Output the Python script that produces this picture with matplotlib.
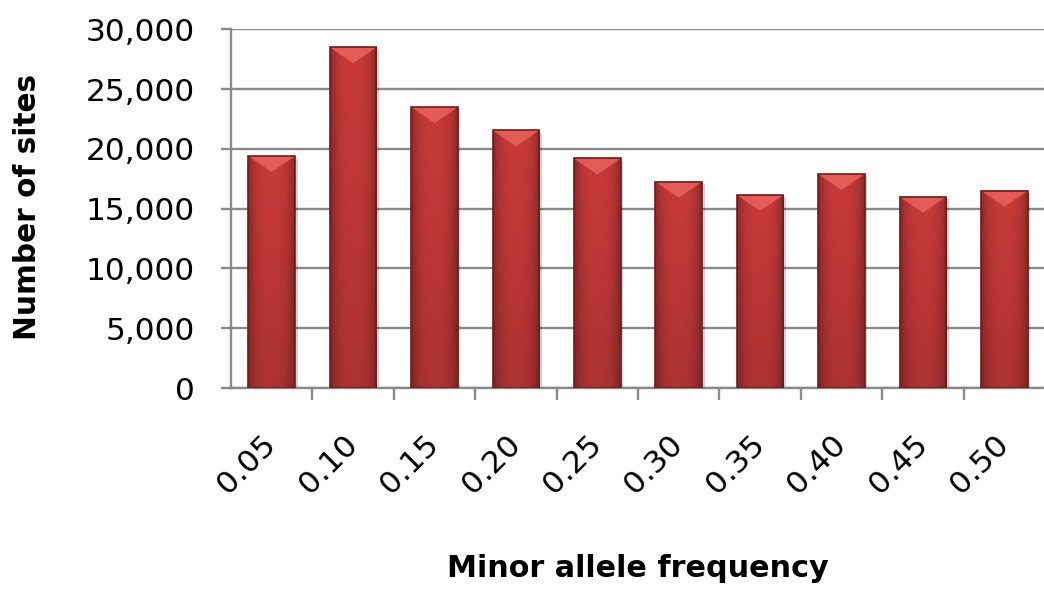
import numpy as np
import matplotlib
matplotlib.use("Agg")
import matplotlib.pyplot as plt
from matplotlib.patches import Rectangle, Polygon
from matplotlib.colors import to_rgb
import matplotlib.transforms as mtransforms

# ---- data ----
categories = ["0.05", "0.10", "0.15", "0.20", "0.25", "0.30", "0.35", "0.40", "0.45", "0.50"]
sites = [19400, 28500, 23500, 21550, 19200, 17250, 16150, 17900, 16000, 16500]
y_ticks = [0, 5000, 10000, 15000, 20000, 25000, 30000]
y_tick_labels = ["0", "5,000", "10,000", "15,000", "20,000", "25,000", "30,000"]
x_title = "Minor allele frequency"
y_title = "Number of sites"

plt.rcParams['font.family'] = ['DejaVu Sans']

W, H = 1044, 597
fig = plt.figure(figsize=(W / 100, H / 100), dpi=100)
ax_left, ax_right, ax_top, ax_bot = 231, 1045, 29.3, 388
ax = fig.add_axes([ax_left / W, 1 - ax_bot / H, (ax_right - ax_left) / W, (ax_bot - ax_top) / H])

n = len(categories)
x = np.arange(n)
bar_w = 0.574
ymax = 30000
ax.set_xlim(-0.5, n - 0.5)
ax.set_ylim(0, ymax)

grid_c = "#8a8a8a"
ax.set_yticks(y_ticks)
ax.set_yticklabels(y_tick_labels)
ax.yaxis.grid(True, color=grid_c, lw=1.7, zorder=0)
ax.set_axisbelow(True)

for s in ["top", "right"]:
    ax.spines[s].set_visible(False)
for s in ["left", "bottom"]:
    ax.spines[s].set_color(grid_c)
    ax.spines[s].set_linewidth(1.7)

ax.tick_params(axis="y", direction="out", length=7, width=1.7, color=grid_c,
               labelsize=22.5, pad=19, labelcolor="black")
# category labels at centres, tick marks at category boundaries
ax.set_xticks(x)
ax.set_xticklabels(categories, rotation=45, ha="right", va="center",
                   rotation_mode="anchor")
ax.tick_params(axis="x", which="major", length=0, labelsize=22.5, pad=37)
ax.set_xticks(np.arange(0.5, n - 0.5, 1.0), minor=True)
ax.tick_params(axis="x", which="minor", direction="out", length=8.5, width=1.7, color=grid_c)

# bevel height in data units (~16 px)
px_per_unit = (ax_bot - ax_top) / ymax
bevel = 16 / px_per_unit

base = np.array(to_rgb("#c93a3a"))
light = np.array(to_rgb("#ea625d"))
edge = "#6e1c1c"

shadow_tr = ax.transData + mtransforms.ScaledTranslation(2.5 / 100, -2.5 / 100, fig.dpi_scale_trans)

nx, ny = 60, 120
u = np.linspace(0, 1, nx)
v = np.linspace(0, 1, ny)
hprof = 1 - 0.30 * (np.abs(u - 0.5) * 2) ** 3
for xi, val in zip(x, sites):
    x0 = xi - bar_w / 2
    shadow = Rectangle((x0, 0), bar_w, val, facecolor="#000000", alpha=0.18,
                       edgecolor="none", transform=shadow_tr, zorder=2)
    ax.add_patch(shadow)
    vprof = 0.86 + 0.14 * v  # darker toward bottom
    fac = vprof[:, None] * hprof[None, :]
    img = np.clip(base[None, None, :] * fac[:, :, None], 0, 1)
    rect = Rectangle((x0, 0), bar_w, val, facecolor="none", edgecolor=edge, lw=1.2, zorder=4)
    ax.add_patch(rect)
    im = ax.imshow(img, extent=(x0, x0 + bar_w, 0, val), origin="lower",
                   aspect="auto", zorder=3, interpolation="bilinear")
    im.set_clip_path(rect)
    tri = Polygon([(x0, val), (x0 + bar_w, val), (xi, val - bevel)], closed=True,
                  facecolor=light, edgecolor="none", alpha=0.85, zorder=3.5)
    ax.add_patch(tri)

ax.set_xlim(-0.5, n - 0.5)
ax.set_ylim(0, ymax)

fig.text(638 / W, 1 - 577 / H, x_title, ha="center", va="baseline",
         fontsize=21.8, fontweight="bold")
fig.text(28 / W, 1 - 207.5 / H, y_title, ha="center", va="center", rotation=90,
         fontsize=21.3, fontweight="bold")

fig.savefig("out.png", dpi=100)
